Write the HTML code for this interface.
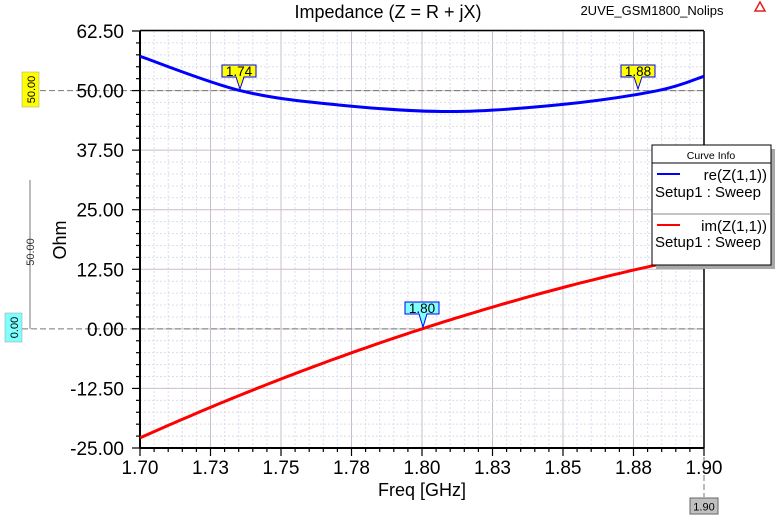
<!DOCTYPE html>
<html><head><meta charset="utf-8"><style>
html,body{margin:0;padding:0;background:#fff;}
svg{display:block;font-family:"Liberation Sans",Arial,sans-serif;}
</style></head><body>
<svg id="s" width="776" height="518" viewBox="0 0 776 518" xmlns="http://www.w3.org/2000/svg">
<rect width="776" height="518" fill="#fff"/>
<g id="grid"></g>
<text x="388" y="18" font-size="18" text-anchor="middle">Impedance (Z = R + jX)</text>
<text x="652" y="15" font-size="13" text-anchor="middle">2UVE_GSM1800_Nolips</text>
<polygon points="760,2 755,11 765,11" fill="none" stroke="#e02020" stroke-width="1.5"/>
<line x1="40" y1="90.6" x2="704" y2="90.6" stroke="#777" stroke-dasharray="6,3"/>
<line x1="22" y1="328.9" x2="704" y2="328.9" stroke="#777" stroke-dasharray="6,3"/>
<polyline points="30,180 30,328.9" fill="none" stroke="#777"/>
<text transform="translate(34,252) rotate(-90)" font-size="11" text-anchor="middle" fill="#333">50.00</text>
<rect x="22" y="72" width="17" height="35" fill="#ffff00" stroke="#999" stroke-width="0.5"/>
<text transform="translate(35,89.5) rotate(-90)" font-size="11" text-anchor="middle">50.00</text>
<rect x="5" y="313" width="17" height="29" fill="#80ffff" stroke="#999" stroke-width="0.5"/>
<text transform="translate(18,327.5) rotate(-90)" font-size="11" text-anchor="middle">0.00</text>
<line x1="704" y1="448" x2="704" y2="497" stroke="#777" stroke-dasharray="6,3"/>
<rect x="690" y="498" width="28" height="16" fill="#c0c0c0" stroke="#666"/>
<text x="704" y="510.5" font-size="11" text-anchor="middle">1.90</text>
<g id="axes"></g>
<text transform="translate(66,240) rotate(-90)" font-size="18" text-anchor="middle">Ohm</text>
<text x="422" y="496" font-size="18" text-anchor="middle">Freq [GHz]</text>
<path id="re" fill="none" stroke="#0000ff" stroke-width="3"/>
<path id="im" fill="none" stroke="#ff0000" stroke-width="3"/>
<g font-size="13.5" text-anchor="middle">
<polygon points="222,65 256,65 256,77 244,77 240,89 236,77 222,77" fill="#ffff00" stroke="#0000ff"/>
<text x="239" y="76">1.74</text>
<polygon points="621,65 655,65 655,77 642,77 638,89 634,77 621,77" fill="#ffff00" stroke="#0000ff"/>
<text x="638" y="76">1.88</text>
<polygon points="405,302 439,302 439,314 427,314 423,327 419,314 405,314" fill="#80ffff" stroke="#0000ff"/>
<text x="422" y="313">1.80</text>
</g>
<rect x="656" y="149" width="119" height="120" fill="#a8a8a8"/>
<rect x="652" y="145" width="119" height="120" fill="#fff" stroke="#000"/>
<text x="711" y="159" font-size="10.5" text-anchor="middle">Curve Info</text>
<line x1="652" y1="163" x2="771" y2="163" stroke="#000"/>
<line x1="657" y1="174" x2="680" y2="174" stroke="#0000ff" stroke-width="2"/>
<text x="767" y="180" font-size="15" text-anchor="end">re(Z(1,1))</text>
<text x="655" y="197" font-size="15">Setup1 : Sweep</text>
<line x1="652" y1="214" x2="771" y2="214" stroke="#888"/>
<line x1="657" y1="225" x2="680" y2="225" stroke="#ff0000" stroke-width="2"/>
<text x="767" y="231" font-size="15" text-anchor="end">im(Z(1,1))</text>
<text x="655" y="247" font-size="15">Setup1 : Sweep</text>
</svg>
<script>
var L=140,R=704,T=31,B=448;
function X(f){return L+(f-1.7)/0.2*(R-L);}
function Y(v){return T+(62.5-v)/87.5*(B-T);}
var ns="http://www.w3.org/2000/svg",g=document.getElementById('grid'),a=document.getElementById('axes');
function ln(p,x1,y1,x2,y2,c,w,d){var e=document.createElementNS(ns,'line');e.setAttribute('x1',x1);e.setAttribute('y1',y1);e.setAttribute('x2',x2);e.setAttribute('y2',y2);e.setAttribute('stroke',c);e.setAttribute('stroke-width',w);if(d)e.setAttribute('stroke-dasharray',d);p.appendChild(e);}
function tx(p,x,y,s,anc){var e=document.createElementNS(ns,'text');e.setAttribute('x',x);e.setAttribute('y',y);e.setAttribute('font-size',19);e.setAttribute('text-anchor',anc);e.textContent=s;p.appendChild(e);}
for(var i=0;i<=40;i++){var x=L+i*(R-L)/40;if(i%5==0)ln(g,x,T,x,B,'#cbbccb',1);else ln(g,x,T,x,B,'#dcdcec',1,'2,2');}
for(var j=0;j<=35;j++){var y=T+j*(B-T)/35;if(j%5==0)ln(g,L,y,R,y,'#cbbccb',1);else ln(g,L,y,R,y,'#dcdcec',1,'2,2');}
ln(a,L,T,L,B,'#000',2);ln(a,L,B,R,B,'#000',2);ln(a,L,T-0.5,R,T-0.5,'#000',1.5);ln(a,R,T,R,B,'#000',1.5);
for(var i=0;i<=40;i++){var x=L+i*(R-L)/40;ln(a,x,B,x,B+(i%5==0?8:4),'#000',1.2);}
for(var j=0;j<=35;j++){var y=T+j*(B-T)/35;ln(a,L,y,L-(j%5==0?8:4),y,'#000',1.2);}
var xl=['1.70','1.73','1.75','1.78','1.80','1.83','1.85','1.88','1.90'];
for(var i=0;i<9;i++)tx(a,L+i*(R-L)/8,B+26,xl[i],'middle');
var yl=['62.50','50.00','37.50','25.00','12.50','0.00','-12.50','-25.00'];
for(var j=0;j<8;j++)tx(a,124,T+j*(B-T)/7+7,yl[j],'end');
var P=[[1.70,57.2],[1.7355,50],[1.77,47.0],[1.81,45.6],[1.85,47.1],[1.8837,50],[1.90,53.0]];
function cr(pts){var d='M'+X(pts[0][0])+','+Y(pts[0][1]);for(var i=0;i<pts.length-1;i++){var p0=pts[Math.max(i-1,0)],p1=pts[i],p2=pts[i+1],p3=pts[Math.min(i+2,pts.length-1)];
var x0=X(p0[0]),y0=Y(p0[1]),x1=X(p1[0]),y1=Y(p1[1]),x2=X(p2[0]),y2=Y(p2[1]),x3=X(p3[0]),y3=Y(p3[1]);
d+=' C'+(x1+(x2-x0)/6)+','+(y1+(y2-y0)/6)+' '+(x2-(x3-x1)/6)+','+(y2-(y3-y1)/6)+' '+x2+','+y2;}return d;}
document.getElementById('re').setAttribute('d',cr(P));
var d='';for(var k=0;k<=100;k++){var f=1.7+k*0.002,t=f-1.8,v=192*t-368*t*t;d+=(k?' L':'M')+X(f).toFixed(1)+','+Y(v).toFixed(1);}
document.getElementById('im').setAttribute('d',d);
</script>
</body></html>
